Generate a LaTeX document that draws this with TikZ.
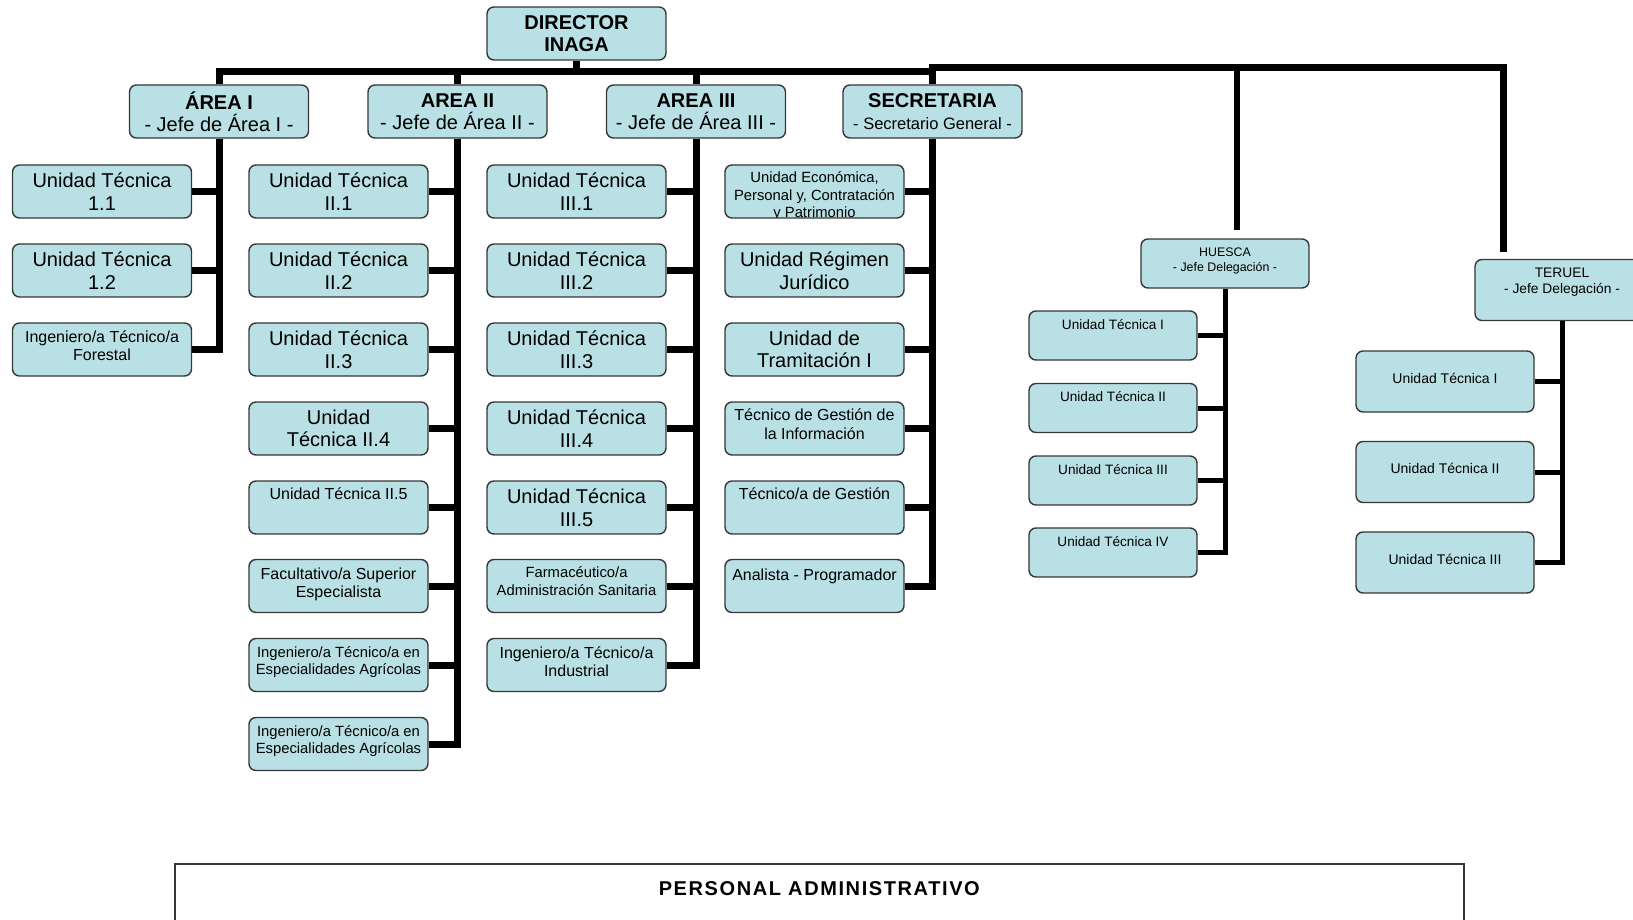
\documentclass[tikz,border=0pt]{standalone}
\usepackage{fontspec}
\setmainfont{Liberation Sans}
\newfontfamily\paspaced[LetterSpace=8]{Liberation Sans}
\definecolor{boxfill}{RGB}{185,224,228}
\definecolor{boxline}{RGB}{55,55,55}
\newcommand\tailsp[1]{\\[#1]\mbox{}}
\begin{document}
\begin{tikzpicture}[x=1pt,y=-1pt,
  box/.style={draw=boxline, line width=1.4pt, fill=boxfill, rounded corners=7pt, align=center, inner xsep=2pt, inner ysep=2pt, text=black},
  ubox/.style={box, minimum width=179pt, minimum height=53pt},
  hbox/.style={box, minimum width=168pt, minimum height=49pt},
  tbox/.style={box, minimum width=178pt, minimum height=61pt},
  fbig/.style={font=\fontsize{20}{22.5}\selectfont},
  fmid/.style={font=\fontsize{16}{18.3}\selectfont},
  fsml/.style={font=\fontsize{14.8}{17.3}\selectfont},
  conn/.style={line width=7pt, black},
  dconn/.style={line width=5pt, black},
  ]
\useasboundingbox (0,0) rectangle (1633,920);
\clip (0,0) rectangle (1633,920);

% top level
\node[ubox, fbig] (D) at (576.5,33.5) {\textbf{DIRECTOR}\\\textbf{INAGA}};
\node[ubox, fbig] (A1) at (219,111.5) {\textbf{ÁREA I}\\- Jefe de Área I -};
\node[ubox, fbig] (A2) at (457.5,111.5) {\textbf{AREA II}\\- Jefe de Área II -};
\node[ubox, fbig] (A3) at (696,111.5) {\textbf{AREA III}\\- Jefe de Área III -};
\node[ubox, fbig] (S) at (932.5,111.5) {\textbf{SECRETARIA}\\{\fontsize{16.5}{18}\selectfont - Secretario General -}};

% column 1
\node[ubox, fbig] (c1r1) at (102,191.5) {Unidad Técnica\\1.1};
\node[ubox, fbig] (c1r2) at (102,270.5) {Unidad Técnica\\1.2};
\node[ubox, fmid] (c1r3) at (102,349.5) {Ingeniero/a Técnico/a\\Forestal\tailsp{-9.9pt}};

% column 2
\node[ubox, fbig] (c2r1) at (338.5,191.5) {Unidad Técnica\\II.1};
\node[ubox, fbig] (c2r2) at (338.5,270.5) {Unidad Técnica\\II.2};
\node[ubox, fbig] (c2r3) at (338.5,349.5) {Unidad Técnica\\II.3};
\node[ubox, fbig] (c2r4) at (338.5,428.5) {Unidad\\Técnica II.4};
\node[ubox, fmid, inner ysep=0pt, text height=18.5pt, text depth=34.5pt] (c2r5) at (338.5,507.5) {Unidad Técnica II.5};
\node[ubox, fmid] (c2r6) at (338.5,586) {Facultativo/a Superior\\Especialista\tailsp{-11pt}};
\node[ubox, fsml] (c2r7) at (338.5,665) {Ingeniero/a Técnico/a en\\Especialidades Agrícolas\tailsp{-8.9pt}};
\node[ubox, fsml] (c2r8) at (338.5,744) {Ingeniero/a Técnico/a en\\Especialidades Agrícolas\tailsp{-8.9pt}};

% column 3
\node[ubox, fbig] (c3r1) at (576.5,191.5) {Unidad Técnica\\III.1};
\node[ubox, fbig] (c3r2) at (576.5,270.5) {Unidad Técnica\\III.2};
\node[ubox, fbig] (c3r3) at (576.5,349.5) {Unidad Técnica\\III.3};
\node[ubox, fbig] (c3r4) at (576.5,428.5) {Unidad Técnica\\III.4};
\node[ubox, fbig] (c3r5) at (576.5,507.5) {Unidad Técnica\\III.5};
\node[ubox, fsml] (c3r6) at (576.5,586) {Farmacéutico/a\\Administración Sanitaria\tailsp{-7.5pt}};
\node[ubox, fmid] (c3r7) at (576.5,665) {Ingeniero/a Técnico/a\\Industrial\tailsp{-11pt}};

% column 4
\node[ubox, path picture={\node[anchor=north, inner sep=0pt, align=center, draw=none, fill=none, rounded corners=0pt, fsml] (tueco) at ([yshift=-4pt]path picture bounding box.north) {Unidad Económica,\\Personal y, Contratación\\y Patrimonio};}] (c4r1) at (814.5,191.5) {};
\node[ubox, fbig] (c4r2) at (814.5,270.5) {Unidad Régimen\\Jurídico};
\node[ubox, fbig] (c4r3) at (814.5,349.5) {Unidad de\\Tramitación I};
\node[ubox, fmid] (c4r4) at (814.5,428.5) {Técnico de Gestión de\\la Información\tailsp{-9.5pt}};
\node[ubox, fmid, inner ysep=0pt, text height=18.5pt, text depth=34.5pt] (c4r5) at (814.5,507.5) {Técnico/a de Gestión};
\node[ubox, fmid, inner ysep=0pt, text height=20.5pt, text depth=32.5pt] (c4r6) at (814.5,586) {Analista - Programador};

% Huesca
\node[hbox, font=\fontsize{12.4}{15}\selectfont] (H) at (1225,263.5) {HUESCA\\- Jefe Delegación -\tailsp{-8pt}};
\node[hbox, font=\fontsize{13.6}{15}\selectfont, inner ysep=0pt, text height=18pt, text depth=31pt] (h1) at (1113,335.5) {Unidad Técnica I};
\node[hbox, font=\fontsize{13.6}{15}\selectfont, inner ysep=0pt, text height=18pt, text depth=31pt] (h2) at (1113,408) {Unidad Técnica II};
\node[hbox, font=\fontsize{13.6}{15}\selectfont, inner ysep=0pt, text height=18pt, text depth=31pt] (h3) at (1113,480.5) {Unidad Técnica III};
\node[hbox, font=\fontsize{13.6}{15}\selectfont, inner ysep=0pt, text height=18pt, text depth=31pt] (h4) at (1113,552.5) {Unidad Técnica IV};

% Teruel
\node[box, minimum width=174pt, minimum height=61pt, font=\fontsize{13.8}{16}\selectfont] (T) at (1562,290) {TERUEL\\- Jefe Delegación -\tailsp{2pt}};
\node[tbox, font=\fontsize{14}{16}\selectfont, inner ysep=0pt, text height=32.3pt, text depth=28.7pt] (t1) at (1445,381.5) {Unidad Técnica I};
\node[tbox, font=\fontsize{14}{16}\selectfont, inner ysep=0pt, text height=32.3pt, text depth=28.7pt] (t2) at (1445,472) {Unidad Técnica II};
\node[tbox, font=\fontsize{14}{16}\selectfont, inner ysep=0pt, text height=32.3pt, text depth=28.7pt] (t3) at (1445,562.5) {Unidad Técnica III};

% personal administrativo
\node[draw=boxline, line width=1.5pt, minimum width=1289pt, minimum height=100pt, inner ysep=0pt, text height=32pt, text depth=68pt, anchor=north west, font=\paspaced\bfseries\fontsize{20}{22.5}\selectfont] (pa) at (174,863) {PERSONAL ADMINISTRATIVO};

% bars
\coordinate (barL) at (0,71.5);
\coordinate (barR) at (0,67.5);
\coordinate (hend) at (1236.5,230);
\coordinate (tend) at (1503,252);
\draw[conn] (A1.north) -- (A1.north |- barL) -- (S.north |- barL);
\draw[conn] (D.south) -- (D.south |- barL);
\draw[conn] (A2.north) -- (A2.north |- barL);
\draw[conn] (A3.north) -- (A3.north |- barL);
\draw[conn] (S.north) -- (S.north |- barR) -- (tend |- barR) -- (tend);
\draw[line width=6pt] (hend |- barR) -- (hend);

% column trunks
\draw[conn] (A1.south) |- (c1r3.east);
\foreach \n in {c1r1,c1r2} \draw[conn] (\n.east) -- (\n.east -| A1.south);
\draw[conn] (A2.south) |- (c2r8.east);
\foreach \n in {c2r1,c2r2,c2r3,c2r4,c2r5,c2r6,c2r7} \draw[conn] (\n.east) -- (\n.east -| A2.south);
\draw[conn] (A3.south) |- (c3r7.east);
\foreach \n in {c3r1,c3r2,c3r3,c3r4,c3r5,c3r6} \draw[conn] (\n.east) -- (\n.east -| A3.south);
\draw[conn] (S.south) |- (c4r6.east);
\foreach \n in {c4r1,c4r2,c4r3,c4r4,c4r5} \draw[conn] (\n.east) -- (\n.east -| S.south);
\draw[dconn] (H.south) |- (h4.east);
\foreach \n in {h1,h2,h3} \draw[dconn] (\n.east) -- (\n.east -| H.south);
\draw[dconn] (T.south) |- (t3.east);
\foreach \n in {t1,t2} \draw[dconn] (\n.east) -- (\n.east -| T.south);
\end{tikzpicture}
\end{document}
